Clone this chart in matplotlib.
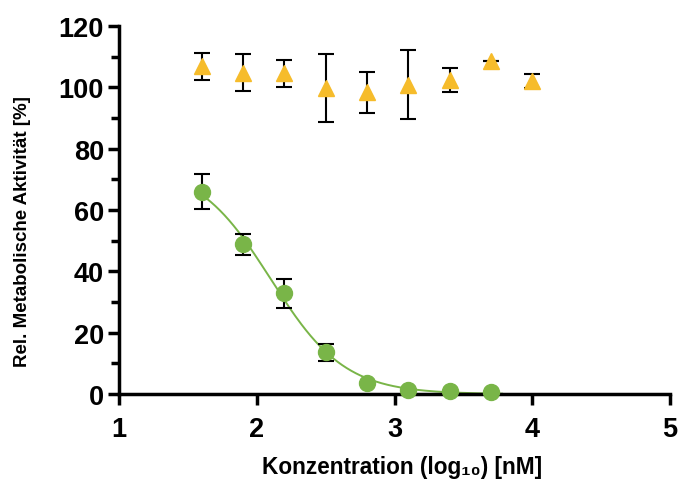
import numpy as np
import matplotlib.pyplot as plt
from matplotlib.ticker import MultipleLocator

plt.rcParams['font.family'] = ['Liberation Sans', 'DejaVu Sans']
plt.rcParams['font.weight'] = 'bold'

# Green series (with fitted curve)
x_green = [1.6, 1.9, 2.2, 2.5, 2.8, 3.1, 3.4, 3.7]
y_green = [66.0, 48.8, 32.9, 13.6, 3.6, 1.3, 1.1, 0.8]
err_green = [5.8, 3.4, 4.7, 2.8, 0.0, 0.0, 0.0, 0.0]

# Orange series
x_orange = [1.6, 1.9, 2.2, 2.5, 2.8, 3.1, 3.4, 3.7, 4.0]
y_orange = [106.8, 104.8, 104.5, 99.8, 98.3, 100.9, 102.4, 108.4, 102.0]
err_orange = [4.3, 6.1, 4.5, 11.0, 6.6, 11.4, 3.9, 0.0, 2.4]

green = '#79B548'
orange = '#F6BC2B'


def four_pl(x, top, bottom, logic50, hill):
    return bottom + (top - bottom) / (1 + 10 ** ((x - logic50) * hill))


# crude least-squares fit of the green points (bottom fixed at 0)
xg = np.array(x_green)
yg = np.array(y_green)
best = None
for top in np.arange(60, 101, 1.0):
    for c in np.arange(1.8, 2.4, 0.005):
        for h in np.arange(1.0, 2.5, 0.02):
            sse = np.sum((four_pl(xg, top, 0, c, h) - yg) ** 2)
            if best is None or sse < best[0]:
                best = (sse, top, c, h)
_, top, c, h = best

x_fit = np.linspace(1.6, 3.78, 200)
y_fit = four_pl(x_fit, top, 0, c, h)

fig = plt.figure(figsize=(6.81, 4.89), dpi=100)
ax = fig.add_axes([0.175, 0.192, 0.809, 0.753])

ax.plot(x_fit, y_fit, color=green, lw=1.4, zorder=2, clip_on=False)
ax.errorbar(x_green, y_green, yerr=err_green, fmt='o', color=green, ms=11.5,
            ecolor='black', elinewidth=1.5, capsize=5.5, capthick=1.5, zorder=3,
            clip_on=False)
ax.errorbar(x_orange, y_orange, yerr=err_orange, fmt='^', color=orange, ms=11.5,
            ecolor='black', elinewidth=1.5, capsize=5.5, capthick=1.5, zorder=3,
            clip_on=False)

ax.set_xlim(1, 5)
ax.set_ylim(0, 120)
ax.set_xticks([1, 2, 3, 4, 5])
ax.set_yticks([0, 20, 40, 60, 80, 100, 120])
ax.yaxis.set_minor_locator(MultipleLocator(10))

for side in ['top', 'right']:
    ax.spines[side].set_visible(False)
for side in ['left', 'bottom']:
    ax.spines[side].set_linewidth(2.5)

ax.tick_params(axis='both', which='major', length=8, width=2.5, labelsize=19.5, pad=3)
ax.tick_params(axis='y', which='minor', length=6, width=2.5)
ax.tick_params(axis='x', pad=8)
for lab in ax.get_xticklabels() + ax.get_yticklabels():
    lab.set_fontweight('bold')

ax.set_xlabel('Konzentration (log₁₀) [nM]', fontsize=16.3, fontweight='bold', va='center')
ax.set_ylabel('Rel. Metabolische Aktivität [%]', fontsize=13.5, fontweight='bold', va='center')
ax.xaxis.set_label_coords(0.514, -0.196)
ax.yaxis.set_label_coords(-0.176, 0.443)

fig.savefig('out.png', dpi=100)
